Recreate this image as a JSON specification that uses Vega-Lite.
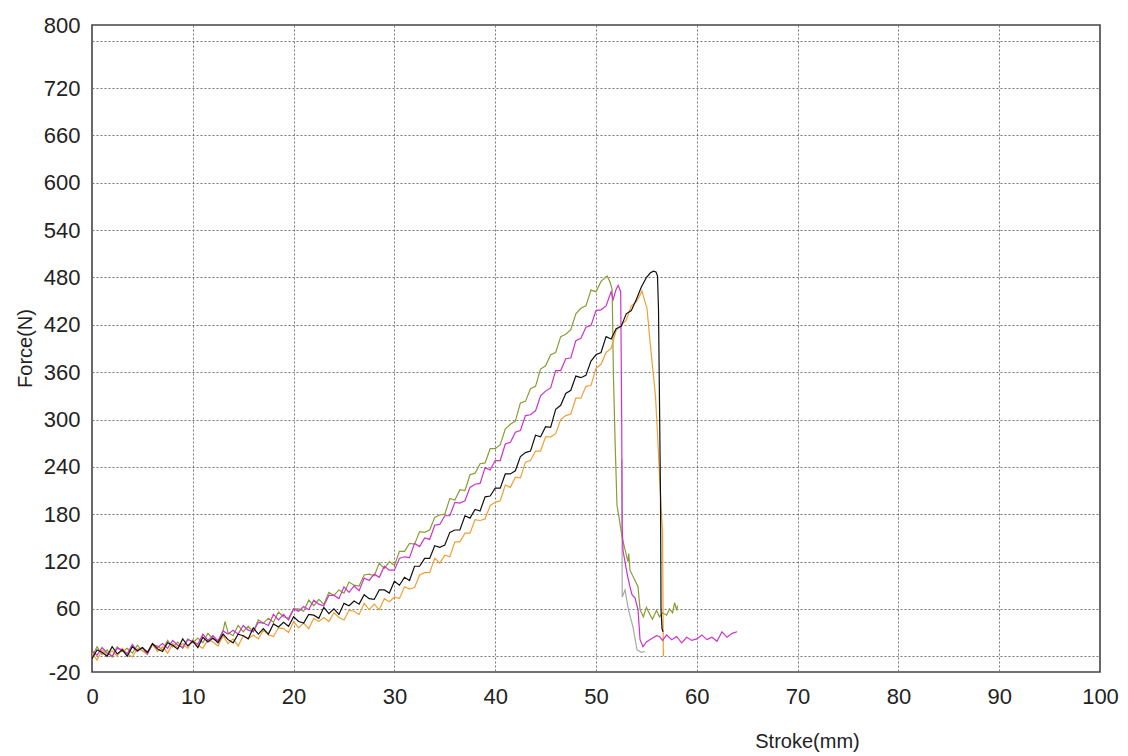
{
"$schema": "https://vega.github.io/schema/vega-lite/v6.json",
"width": 1008,
"height": 647,
"autosize": {"type": "none"},
"padding": {"left": 92, "top": 25, "right": 28, "bottom": 84},
"background": "white",
"config": {"view": {"stroke": "#444444", "strokeWidth": 1.6}, "font": "Liberation Sans"},
"data": {"values": [
{"s":"G","mm":52.56,"N":250},{"s":"G","mm":52.58,"N":160},{"s":"G","mm":52.6,"N":75},{"s":"G","mm":52.88,"N":84},{"s":"G","mm":53.2,"N":60},{"s":"G","mm":53.67,"N":37},{"s":"G","mm":54.07,"N":8},{"s":"G","mm":54.5,"N":5},{"s":"G","mm":54.86,"N":6},
{"s":"O","mm":0,"N":-1},{"s":"O","mm":0.5,"N":12},{"s":"O","mm":1,"N":2},{"s":"O","mm":1.5,"N":8},{"s":"O","mm":2,"N":-1},{"s":"O","mm":2.5,"N":12},{"s":"O","mm":3,"N":6},{"s":"O","mm":3.5,"N":10},{"s":"O","mm":4,"N":4},{"s":"O","mm":4.5,"N":14},{"s":"O","mm":5,"N":7},{"s":"O","mm":5.5,"N":4},{"s":"O","mm":6,"N":15},{"s":"O","mm":6.5,"N":13},{"s":"O","mm":7,"N":8},{"s":"O","mm":7.5,"N":20},{"s":"O","mm":8,"N":12},{"s":"O","mm":8.5,"N":18},{"s":"O","mm":9,"N":10},{"s":"O","mm":9.5,"N":22},{"s":"O","mm":10,"N":17},{"s":"O","mm":10.5,"N":23},{"s":"O","mm":11,"N":17},{"s":"O","mm":11.5,"N":29},{"s":"O","mm":12,"N":22},{"s":"O","mm":12.5,"N":20},{"s":"O","mm":13,"N":32},{"s":"O","mm":13.2,"N":44},{"s":"O","mm":13.5,"N":30},{"s":"O","mm":14,"N":26},{"s":"O","mm":14.5,"N":39},{"s":"O","mm":15,"N":31},{"s":"O","mm":15.5,"N":38},{"s":"O","mm":16,"N":31},{"s":"O","mm":16.5,"N":46},{"s":"O","mm":17,"N":42},{"s":"O","mm":17.5,"N":48},{"s":"O","mm":18,"N":43},{"s":"O","mm":18.5,"N":56},{"s":"O","mm":19,"N":50},{"s":"O","mm":19.5,"N":48},{"s":"O","mm":20,"N":60},{"s":"O","mm":20.5,"N":60},{"s":"O","mm":21,"N":57},{"s":"O","mm":21.5,"N":71},{"s":"O","mm":22,"N":64},{"s":"O","mm":22.5,"N":72},{"s":"O","mm":23,"N":66},{"s":"O","mm":23.5,"N":81},{"s":"O","mm":24,"N":77},{"s":"O","mm":24.5,"N":84},{"s":"O","mm":25,"N":80},{"s":"O","mm":25.5,"N":94},{"s":"O","mm":26,"N":90},{"s":"O","mm":26.5,"N":89},{"s":"O","mm":27,"N":103},{"s":"O","mm":27.5,"N":104},{"s":"O","mm":28,"N":102},{"s":"O","mm":28.5,"N":118},{"s":"O","mm":29,"N":111},{"s":"O","mm":29.5,"N":120},{"s":"O","mm":30,"N":115},{"s":"O","mm":30.5,"N":133},{"s":"O","mm":31,"N":133},{"s":"O","mm":31.5,"N":143},{"s":"O","mm":32,"N":142},{"s":"O","mm":32.5,"N":158},{"s":"O","mm":33,"N":157},{"s":"O","mm":33.5,"N":160},{"s":"O","mm":34,"N":176},{"s":"O","mm":34.5,"N":179},{"s":"O","mm":35,"N":180},{"s":"O","mm":35.5,"N":200},{"s":"O","mm":36,"N":198},{"s":"O","mm":36.5,"N":211},{"s":"O","mm":37,"N":210},{"s":"O","mm":37.5,"N":230},{"s":"O","mm":38,"N":232},{"s":"O","mm":38.5,"N":244},{"s":"O","mm":39,"N":245},{"s":"O","mm":39.5,"N":263},{"s":"O","mm":40,"N":263},{"s":"O","mm":40.5,"N":268},{"s":"O","mm":41,"N":288},{"s":"O","mm":41.5,"N":294},{"s":"O","mm":42,"N":298},{"s":"O","mm":42.5,"N":321},{"s":"O","mm":43,"N":323},{"s":"O","mm":43.5,"N":339},{"s":"O","mm":44,"N":342},{"s":"O","mm":44.5,"N":364},{"s":"O","mm":45,"N":368},{"s":"O","mm":45.5,"N":382},{"s":"O","mm":46,"N":385},{"s":"O","mm":46.5,"N":405},{"s":"O","mm":47,"N":408},{"s":"O","mm":47.5,"N":414},{"s":"O","mm":48,"N":434},{"s":"O","mm":48.5,"N":441},{"s":"O","mm":49,"N":444},{"s":"O","mm":49.5,"N":464},{"s":"O","mm":50,"N":462},{"s":"O","mm":50.5,"N":475},{"s":"O","mm":51,"N":481},{"s":"O","mm":51.1,"N":482},{"s":"O","mm":51.4,"N":474},{"s":"O","mm":51.6,"N":465},{"s":"O","mm":51.68,"N":400},{"s":"O","mm":51.72,"N":360},{"s":"O","mm":51.9,"N":270},{"s":"O","mm":52.08,"N":192},{"s":"O","mm":52.6,"N":150},{"s":"O","mm":53.17,"N":120},{"s":"O","mm":53.25,"N":130},{"s":"O","mm":53.37,"N":109},{"s":"O","mm":54.17,"N":88},{"s":"O","mm":54.37,"N":59},{"s":"O","mm":54.7,"N":50},{"s":"O","mm":55,"N":62},{"s":"O","mm":55.3,"N":54},{"s":"O","mm":55.6,"N":47},{"s":"O","mm":56,"N":58},{"s":"O","mm":56.3,"N":50},{"s":"O","mm":56.6,"N":55},{"s":"O","mm":57,"N":52},{"s":"O","mm":57.3,"N":60},{"s":"O","mm":57.6,"N":55},{"s":"O","mm":57.8,"N":68},{"s":"O","mm":58,"N":58},{"s":"O","mm":58.1,"N":64},
{"s":"R","mm":0,"N":4},{"s":"R","mm":0.5,"N":-5},{"s":"R","mm":1,"N":8},{"s":"R","mm":1.5,"N":2},{"s":"R","mm":2,"N":7},{"s":"R","mm":2.5,"N":0},{"s":"R","mm":3,"N":10},{"s":"R","mm":3.5,"N":3},{"s":"R","mm":4,"N":-1},{"s":"R","mm":4.5,"N":10},{"s":"R","mm":5,"N":7},{"s":"R","mm":5.5,"N":2},{"s":"R","mm":6,"N":15},{"s":"R","mm":6.5,"N":6},{"s":"R","mm":7,"N":12},{"s":"R","mm":7.5,"N":4},{"s":"R","mm":8,"N":16},{"s":"R","mm":8.5,"N":11},{"s":"R","mm":9,"N":16},{"s":"R","mm":9.5,"N":10},{"s":"R","mm":10,"N":21},{"s":"R","mm":10.5,"N":14},{"s":"R","mm":11,"N":10},{"s":"R","mm":11.5,"N":21},{"s":"R","mm":12,"N":18},{"s":"R","mm":12.5,"N":13},{"s":"R","mm":13,"N":26},{"s":"R","mm":13.5,"N":16},{"s":"R","mm":14,"N":22},{"s":"R","mm":14.5,"N":13},{"s":"R","mm":15,"N":26},{"s":"R","mm":15.5,"N":22},{"s":"R","mm":16,"N":27},{"s":"R","mm":16.5,"N":22},{"s":"R","mm":17,"N":33},{"s":"R","mm":17.5,"N":27},{"s":"R","mm":18,"N":25},{"s":"R","mm":18.5,"N":36},{"s":"R","mm":19,"N":35},{"s":"R","mm":19.5,"N":30},{"s":"R","mm":20,"N":44},{"s":"R","mm":20.5,"N":36},{"s":"R","mm":21,"N":42},{"s":"R","mm":21.5,"N":35},{"s":"R","mm":22,"N":48},{"s":"R","mm":22.5,"N":44},{"s":"R","mm":23,"N":49},{"s":"R","mm":23.5,"N":44},{"s":"R","mm":24,"N":55},{"s":"R","mm":24.5,"N":49},{"s":"R","mm":25,"N":46},{"s":"R","mm":25.5,"N":58},{"s":"R","mm":26,"N":57},{"s":"R","mm":26.5,"N":53},{"s":"R","mm":27,"N":67},{"s":"R","mm":27.5,"N":59},{"s":"R","mm":28,"N":66},{"s":"R","mm":28.5,"N":59},{"s":"R","mm":29,"N":73},{"s":"R","mm":29.5,"N":69},{"s":"R","mm":30,"N":75},{"s":"R","mm":30.5,"N":73},{"s":"R","mm":31,"N":88},{"s":"R","mm":31.5,"N":85},{"s":"R","mm":32,"N":87},{"s":"R","mm":32.5,"N":103},{"s":"R","mm":33,"N":106},{"s":"R","mm":33.5,"N":106},{"s":"R","mm":34,"N":124},{"s":"R","mm":34.5,"N":118},{"s":"R","mm":35,"N":128},{"s":"R","mm":35.5,"N":126},{"s":"R","mm":36,"N":145},{"s":"R","mm":36.5,"N":145},{"s":"R","mm":37,"N":156},{"s":"R","mm":37.5,"N":156},{"s":"R","mm":38,"N":173},{"s":"R","mm":38.5,"N":172},{"s":"R","mm":39,"N":174},{"s":"R","mm":39.5,"N":191},{"s":"R","mm":40,"N":195},{"s":"R","mm":40.5,"N":197},{"s":"R","mm":41,"N":217},{"s":"R","mm":41.5,"N":214},{"s":"R","mm":42,"N":227},{"s":"R","mm":42.5,"N":226},{"s":"R","mm":43,"N":246},{"s":"R","mm":43.5,"N":248},{"s":"R","mm":44,"N":260},{"s":"R","mm":44.5,"N":260},{"s":"R","mm":45,"N":278},{"s":"R","mm":45.5,"N":278},{"s":"R","mm":46,"N":282},{"s":"R","mm":46.5,"N":300},{"s":"R","mm":47,"N":305},{"s":"R","mm":47.5,"N":307},{"s":"R","mm":48,"N":327},{"s":"R","mm":48.5,"N":327},{"s":"R","mm":49,"N":342},{"s":"R","mm":49.5,"N":343},{"s":"R","mm":50,"N":365},{"s":"R","mm":50.5,"N":370},{"s":"R","mm":51,"N":385},{"s":"R","mm":51.5,"N":390},{"s":"R","mm":52,"N":413},{"s":"R","mm":52.5,"N":420},{"s":"R","mm":53,"N":426},{"s":"R","mm":53.5,"N":444},{"s":"R","mm":54,"N":449},{"s":"R","mm":54.3,"N":456},{"s":"R","mm":54.56,"N":463},{"s":"R","mm":54.8,"N":452},{"s":"R","mm":55.06,"N":441},{"s":"R","mm":55.35,"N":400},{"s":"R","mm":55.65,"N":362},{"s":"R","mm":55.9,"N":330},{"s":"R","mm":56.15,"N":270},{"s":"R","mm":56.3,"N":230},{"s":"R","mm":56.45,"N":190},{"s":"R","mm":56.6,"N":160},{"s":"R","mm":56.65,"N":60},{"s":"R","mm":56.68,"N":0},{"s":"R","mm":56.72,"N":8},
{"s":"M","mm":0,"N":7},{"s":"M","mm":0.5,"N":1},{"s":"M","mm":1,"N":11},{"s":"M","mm":1.5,"N":4},{"s":"M","mm":2,"N":0},{"s":"M","mm":2.5,"N":10},{"s":"M","mm":3,"N":8},{"s":"M","mm":3.5,"N":3},{"s":"M","mm":4,"N":15},{"s":"M","mm":4.5,"N":6},{"s":"M","mm":5,"N":11},{"s":"M","mm":5.5,"N":3},{"s":"M","mm":6,"N":16},{"s":"M","mm":6.5,"N":11},{"s":"M","mm":7,"N":16},{"s":"M","mm":7.5,"N":10},{"s":"M","mm":8,"N":20},{"s":"M","mm":8.5,"N":14},{"s":"M","mm":9,"N":11},{"s":"M","mm":9.5,"N":21},{"s":"M","mm":10,"N":19},{"s":"M","mm":10.5,"N":15},{"s":"M","mm":11,"N":28},{"s":"M","mm":11.5,"N":20},{"s":"M","mm":12,"N":26},{"s":"M","mm":12.5,"N":19},{"s":"M","mm":13,"N":32},{"s":"M","mm":13.5,"N":28},{"s":"M","mm":14,"N":33},{"s":"M","mm":14.5,"N":28},{"s":"M","mm":15,"N":39},{"s":"M","mm":15.5,"N":33},{"s":"M","mm":16,"N":31},{"s":"M","mm":16.5,"N":43},{"s":"M","mm":17,"N":42},{"s":"M","mm":17.5,"N":39},{"s":"M","mm":18,"N":53},{"s":"M","mm":18.5,"N":46},{"s":"M","mm":19,"N":53},{"s":"M","mm":19.5,"N":46},{"s":"M","mm":20,"N":60},{"s":"M","mm":20.5,"N":57},{"s":"M","mm":21,"N":63},{"s":"M","mm":21.5,"N":59},{"s":"M","mm":22,"N":71},{"s":"M","mm":22.5,"N":66},{"s":"M","mm":23,"N":64},{"s":"M","mm":23.5,"N":77},{"s":"M","mm":24,"N":77},{"s":"M","mm":24.5,"N":73},{"s":"M","mm":25,"N":88},{"s":"M","mm":25.5,"N":81},{"s":"M","mm":26,"N":89},{"s":"M","mm":26.5,"N":83},{"s":"M","mm":27,"N":99},{"s":"M","mm":27.5,"N":96},{"s":"M","mm":28,"N":104},{"s":"M","mm":28.5,"N":100},{"s":"M","mm":29,"N":114},{"s":"M","mm":29.5,"N":109},{"s":"M","mm":30,"N":109},{"s":"M","mm":30.5,"N":124},{"s":"M","mm":31,"N":126},{"s":"M","mm":31.5,"N":125},{"s":"M","mm":32,"N":143},{"s":"M","mm":32.5,"N":139},{"s":"M","mm":33,"N":150},{"s":"M","mm":33.5,"N":148},{"s":"M","mm":34,"N":166},{"s":"M","mm":34.5,"N":167},{"s":"M","mm":35,"N":178},{"s":"M","mm":35.5,"N":178},{"s":"M","mm":36,"N":195},{"s":"M","mm":36.5,"N":194},{"s":"M","mm":37,"N":197},{"s":"M","mm":37.5,"N":214},{"s":"M","mm":38,"N":218},{"s":"M","mm":38.5,"N":219},{"s":"M","mm":39,"N":239},{"s":"M","mm":39.5,"N":236},{"s":"M","mm":40,"N":248},{"s":"M","mm":40.5,"N":248},{"s":"M","mm":41,"N":269},{"s":"M","mm":41.5,"N":271},{"s":"M","mm":42,"N":284},{"s":"M","mm":42.5,"N":286},{"s":"M","mm":43,"N":305},{"s":"M","mm":43.5,"N":306},{"s":"M","mm":44,"N":311},{"s":"M","mm":44.5,"N":330},{"s":"M","mm":45,"N":336},{"s":"M","mm":45.5,"N":340},{"s":"M","mm":46,"N":362},{"s":"M","mm":46.5,"N":362},{"s":"M","mm":47,"N":377},{"s":"M","mm":47.5,"N":378},{"s":"M","mm":48,"N":400},{"s":"M","mm":48.5,"N":403},{"s":"M","mm":49,"N":417},{"s":"M","mm":49.5,"N":419},{"s":"M","mm":50,"N":438},{"s":"M","mm":50.5,"N":439},{"s":"M","mm":51,"N":444},{"s":"M","mm":51.5,"N":462},{"s":"M","mm":51.7,"N":452},{"s":"M","mm":52,"N":465},{"s":"M","mm":52.2,"N":470},{"s":"M","mm":52.45,"N":462},{"s":"M","mm":52.55,"N":300},{"s":"M","mm":52.6,"N":165},{"s":"M","mm":52.68,"N":134},{"s":"M","mm":53.08,"N":105},{"s":"M","mm":53.37,"N":88},{"s":"M","mm":53.57,"N":78},{"s":"M","mm":53.87,"N":74},{"s":"M","mm":54.17,"N":59},{"s":"M","mm":54.37,"N":21},{"s":"M","mm":54.66,"N":12},{"s":"M","mm":55,"N":18},{"s":"M","mm":55.5,"N":22},{"s":"M","mm":56,"N":26},{"s":"M","mm":56.3,"N":25},{"s":"M","mm":56.6,"N":20},{"s":"M","mm":57,"N":27},{"s":"M","mm":57.5,"N":21},{"s":"M","mm":58,"N":25},{"s":"M","mm":58.5,"N":17},{"s":"M","mm":59,"N":24},{"s":"M","mm":59.5,"N":20},{"s":"M","mm":60,"N":22},{"s":"M","mm":60.5,"N":27},{"s":"M","mm":61,"N":21},{"s":"M","mm":61.5,"N":24},{"s":"M","mm":62,"N":19},{"s":"M","mm":62.5,"N":31},{"s":"M","mm":63,"N":24},{"s":"M","mm":63.5,"N":29},{"s":"M","mm":64,"N":31},
{"s":"B","mm":0,"N":-3},{"s":"B","mm":0.5,"N":8},{"s":"B","mm":1,"N":5},{"s":"B","mm":1.5,"N":0},{"s":"B","mm":2,"N":12},{"s":"B","mm":2.5,"N":3},{"s":"B","mm":3,"N":8},{"s":"B","mm":3.5,"N":0},{"s":"B","mm":4,"N":12},{"s":"B","mm":4.5,"N":7},{"s":"B","mm":5,"N":11},{"s":"B","mm":5.5,"N":5},{"s":"B","mm":6,"N":16},{"s":"B","mm":6.5,"N":9},{"s":"B","mm":7,"N":6},{"s":"B","mm":7.5,"N":17},{"s":"B","mm":8,"N":14},{"s":"B","mm":8.5,"N":9},{"s":"B","mm":9,"N":22},{"s":"B","mm":9.5,"N":13},{"s":"B","mm":10,"N":19},{"s":"B","mm":10.5,"N":11},{"s":"B","mm":11,"N":24},{"s":"B","mm":11.5,"N":18},{"s":"B","mm":12,"N":23},{"s":"B","mm":12.5,"N":17},{"s":"B","mm":13,"N":28},{"s":"B","mm":13.5,"N":21},{"s":"B","mm":14,"N":17},{"s":"B","mm":14.5,"N":28},{"s":"B","mm":15,"N":26},{"s":"B","mm":15.5,"N":22},{"s":"B","mm":16,"N":36},{"s":"B","mm":16.5,"N":28},{"s":"B","mm":17,"N":35},{"s":"B","mm":17.5,"N":28},{"s":"B","mm":18,"N":41},{"s":"B","mm":18.5,"N":37},{"s":"B","mm":19,"N":43},{"s":"B","mm":19.5,"N":38},{"s":"B","mm":20,"N":50},{"s":"B","mm":20.5,"N":44},{"s":"B","mm":21,"N":42},{"s":"B","mm":21.5,"N":53},{"s":"B","mm":22,"N":52},{"s":"B","mm":22.5,"N":48},{"s":"B","mm":23,"N":62},{"s":"B","mm":23.5,"N":54},{"s":"B","mm":24,"N":60},{"s":"B","mm":24.5,"N":53},{"s":"B","mm":25,"N":67},{"s":"B","mm":25.5,"N":64},{"s":"B","mm":26,"N":70},{"s":"B","mm":26.5,"N":66},{"s":"B","mm":27,"N":78},{"s":"B","mm":27.5,"N":73},{"s":"B","mm":28,"N":72},{"s":"B","mm":28.5,"N":84},{"s":"B","mm":29,"N":84},{"s":"B","mm":29.5,"N":80},{"s":"B","mm":30,"N":95},{"s":"B","mm":30.5,"N":90},{"s":"B","mm":31,"N":100},{"s":"B","mm":31.5,"N":96},{"s":"B","mm":32,"N":114},{"s":"B","mm":32.5,"N":114},{"s":"B","mm":33,"N":124},{"s":"B","mm":33.5,"N":124},{"s":"B","mm":34,"N":140},{"s":"B","mm":34.5,"N":138},{"s":"B","mm":35,"N":141},{"s":"B","mm":35.5,"N":157},{"s":"B","mm":36,"N":160},{"s":"B","mm":36.5,"N":160},{"s":"B","mm":37,"N":178},{"s":"B","mm":37.5,"N":175},{"s":"B","mm":38,"N":186},{"s":"B","mm":38.5,"N":184},{"s":"B","mm":39,"N":202},{"s":"B","mm":39.5,"N":203},{"s":"B","mm":40,"N":213},{"s":"B","mm":40.5,"N":213},{"s":"B","mm":41,"N":231},{"s":"B","mm":41.5,"N":231},{"s":"B","mm":42,"N":235},{"s":"B","mm":42.5,"N":253},{"s":"B","mm":43,"N":258},{"s":"B","mm":43.5,"N":260},{"s":"B","mm":44,"N":280},{"s":"B","mm":44.5,"N":278},{"s":"B","mm":45,"N":291},{"s":"B","mm":45.5,"N":290},{"s":"B","mm":46,"N":313},{"s":"B","mm":46.5,"N":318},{"s":"B","mm":47,"N":333},{"s":"B","mm":47.5,"N":337},{"s":"B","mm":48,"N":355},{"s":"B","mm":48.5,"N":353},{"s":"B","mm":49,"N":356},{"s":"B","mm":49.5,"N":374},{"s":"B","mm":50,"N":382},{"s":"B","mm":50.5,"N":385},{"s":"B","mm":51,"N":405},{"s":"B","mm":51.5,"N":402},{"s":"B","mm":52,"N":415},{"s":"B","mm":52.5,"N":418},{"s":"B","mm":53,"N":434},{"s":"B","mm":53.5,"N":438},{"s":"B","mm":54,"N":452},{"s":"B","mm":54.5,"N":468},{"s":"B","mm":55,"N":480},{"s":"B","mm":55.4,"N":486},{"s":"B","mm":55.7,"N":488},{"s":"B","mm":55.95,"N":487},{"s":"B","mm":56.1,"N":482},{"s":"B","mm":56.2,"N":440},{"s":"B","mm":56.4,"N":200},{"s":"B","mm":56.45,"N":59},{"s":"B","mm":56.55,"N":35},{"s":"B","mm":56.65,"N":31}
]},
"mark": {"type": "line", "strokeWidth": 1.2, "clip": true},
"encoding": {
"x": {"field": "mm", "type": "quantitative",
 "scale": {"domain": [0, 100], "nice": false, "zero": false},
 "axis": {"title": "Stroke(mm)", "values": [0,10,20,30,40,50,60,70,80,90,100],
  "grid": true, "gridColor": {"condition": {"test": "datum.value == 0 || datum.value == 100", "value": "transparent"}, "value": "#777777"},
  "gridDash": [2, 2], "gridWidth": 1, "ticks": false, "domain": false,
  "labelFontSize": 22, "labelPadding": 14, "labelColor": "#222222", "labelFlush": false,
  "titleFontSize": 20, "titleFontWeight": "normal", "titleColor": "#222222",
  "titleX": 715, "titleY": 69, "titleBaseline": "middle", "titleAlign": "center"}},
"y": {"field": "N", "type": "quantitative",
 "scale": {"domain": [-20, 800], "nice": false, "zero": false},
 "axis": {"title": "Force(N)", "values": [-20,0,60,120,180,240,300,360,420,480,540,600,660,720,780,800],
  "labelExpr": "datum.value == 0 || datum.value == 780 ? '' : '' + datum.value",
  "grid": true, "gridColor": {"condition": {"test": "datum.value == -20 || datum.value == 800", "value": "transparent"}, "value": "#777777"},
  "gridDash": [2, 2], "gridWidth": 1, "ticks": false, "domain": false,
  "labelFontSize": 22, "labelPadding": 12, "labelColor": "#222222", "labelFlush": false,
  "titleFontSize": 20, "titleFontWeight": "normal", "titleColor": "#222222",
  "titleX": -67, "titleY": 323, "titleBaseline": "middle", "titleAlign": "center", "titleAngle": -90}},
"color": {"field": "s", "type": "nominal",
 "scale": {"domain": ["G", "O", "R", "M", "B"], "range": ["#a8a8a8", "#8c9c34", "#f0a035", "#cc33cc", "#111111"]},
 "legend": null}
}
}
